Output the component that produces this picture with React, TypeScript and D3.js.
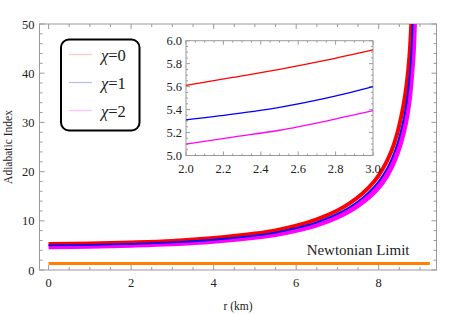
import * as d3 from "d3";

// main panel: adiabatic index vs r (km)
const rRed = [0, 1, 2, 3, 4, 5, 5.5, 6, 6.5, 7, 7.3, 7.6, 7.9, 8.1, 8.3, 8.45, 8.6, 8.68, 8.74, 8.78, 8.81];
const gRed = [5.3, 5.4, 5.61, 5.92, 6.5, 7.4, 8.05, 9.0, 10.3, 12.1, 13.6, 15.5, 18.1, 20.6, 24.0, 27.8, 33.5, 38, 43, 48.5, 55];
const rBlue = [0, 1, 2, 3, 4, 5, 5.5, 6, 6.5, 7, 7.3, 7.6, 7.9, 8.1, 8.3, 8.45, 8.6, 8.68, 8.74, 8.79, 8.82, 8.85];
const gBlue = [5.0, 5.1, 5.31, 5.6, 6.15, 7.0, 7.6, 8.5, 9.7, 11.4, 12.8, 14.6, 17.0, 19.2, 22.3, 25.6, 30.5, 34.3, 38.5, 44, 50, 57];
const rMag = [0, 1, 2, 3, 4, 5, 5.5, 6, 6.5, 7, 7.3, 7.6, 7.9, 8.1, 8.3, 8.45, 8.6, 8.68, 8.74, 8.79, 8.83, 8.86, 8.89];
const gMag = [4.8, 4.9, 5.1, 5.39, 5.9, 6.7, 7.25, 8.1, 9.2, 10.8, 12.1, 13.8, 16.0, 18.0, 20.9, 23.9, 28.2, 31.5, 35, 39.5, 44, 50, 57];

// Newtonian limit 4/3
const newtonR = [0, 9.24];
const newtonG = [4 / 3, 4 / 3];

// inset: zoom on 2 <= r <= 3
const insetR = [2.0, 2.25, 2.5, 2.75, 3.0];
const insetRed = [5.61, 5.68, 5.75, 5.83, 5.92];
const insetBlue = [5.31, 5.36, 5.42, 5.5, 5.6];
const insetMag = [5.1, 5.16, 5.22, 5.3, 5.39];

const xTicks = [0, 2, 4, 6, 8];
const yTicks = [0, 10, 20, 30, 40, 50];
const insetXTicks = [2.0, 2.2, 2.4, 2.6, 2.8, 3.0];
const insetYTicks = [5.0, 5.2, 5.4, 5.6, 5.8, 6.0];

const legendLabels = ["0", "1", "2"];
const legendColors = ["#ffc4c4", "#b8b8ff", "#ffc0ff"];

const FONT = "Liberation Serif, Times New Roman, DejaVu Serif, serif";
const FRAME = "#9a9a9a";
const TEXT = "#222";

const zip = (a: number[], b: number[]) => a.map((v, i) => [v, b[i]] as [number, number]);

export default function App() {
  const W = 463, H = 314;
  const L = 39.5, R = 436.5, T = 24, B = 270;

  const x = d3.scaleLinear().domain([-0.22, 9.4]).range([L, R]);
  const y = d3.scaleLinear().domain([0, 50]).range([B, T]);

  const line = d3.line<[number, number]>()
    .x((d) => x(d[0]))
    .y((d) => y(d[1]))
    .curve(d3.curveCatmullRom.alpha(0.5));

  // inset scales
  const ix = d3.scaleLinear().domain([2, 3]).range([186, 373]);
  const iy = d3.scaleLinear().domain([5, 6]).range([155.5, 40.7]);
  const iline = d3.line<[number, number]>()
    .x((d) => ix(d[0]))
    .y((d) => iy(d[1]))
    .curve(d3.curveMonotoneX);

  const xMinor = d3.range(0, 9.5, 0.5).filter((v) => v % 2 !== 0);
  const yMinor = d3.range(0, 50, 2).filter((v) => v % 10 !== 0);
  const ixMinor = d3.range(2, 3.0001, 0.05).filter((v) => Math.abs(v * 5 - Math.round(v * 5)) > 1e-6);
  const iyMinor = d3.range(5, 6.0001, 0.05).filter((v) => Math.abs(v * 5 - Math.round(v * 5)) > 1e-6);

  const major = 5, minor = 3;

  return (
    <svg width={W} height={H} style={{ position: "absolute", left: 0, top: 0, background: "#fff", fontFamily: FONT }}>
      <defs>
        <clipPath id="mainClip">
          <rect x={L} y={T} width={R - L} height={B - T} />
        </clipPath>
      </defs>

      {/* main frame */}
      <rect x={L} y={T} width={R - L} height={B - T} fill="none" stroke={FRAME} strokeWidth={1} />
      <g stroke={FRAME} strokeWidth={1}>
        {xTicks.map((t) => (
          <g key={"xt" + t}>
            <line x1={x(t)} x2={x(t)} y1={B} y2={B - major} />
            <line x1={x(t)} x2={x(t)} y1={T} y2={T + major} />
          </g>
        ))}
        {xMinor.map((t) => (
          <g key={"xm" + t}>
            <line x1={x(t)} x2={x(t)} y1={B} y2={B - minor} />
            <line x1={x(t)} x2={x(t)} y1={T} y2={T + minor} />
          </g>
        ))}
        {yTicks.map((t) => (
          <g key={"yt" + t}>
            <line x1={L} x2={L + major} y1={y(t)} y2={y(t)} />
            <line x1={R} x2={R - major} y1={y(t)} y2={y(t)} />
          </g>
        ))}
        {yMinor.map((t) => (
          <g key={"ym" + t}>
            <line x1={L} x2={L + minor} y1={y(t)} y2={y(t)} />
            <line x1={R} x2={R - minor} y1={y(t)} y2={y(t)} />
          </g>
        ))}
      </g>
      <g fontSize={12.5} fill={TEXT}>
        {xTicks.map((t) => (
          <text key={"xl" + t} x={x(t)} y={B + 17} textAnchor="middle">{t}</text>
        ))}
        {yTicks.map((t) => (
          <text key={"yl" + t} x={L - 5} y={y(t) + 4.5} textAnchor="end">{t}</text>
        ))}
      </g>
      <text x={238} y={310} fontSize={11.5} fill={TEXT} textAnchor="middle">r (km)</text>
      <text transform={`translate(12,${(T + B) / 2}) rotate(-90)`} fontSize={11.5} fill={TEXT} textAnchor="middle">Adiabatic Index</text>

      {/* curves */}
      <g clipPath="url(#mainClip)" fill="none">
        <path d={line(zip(rMag, gMag)) ?? ""} stroke="#ff00ff" strokeWidth={5.5} />
        <path d={line(zip(rRed, gRed)) ?? ""} stroke="#ff0000" strokeWidth={4} />
        <path d={line(zip(rBlue, gBlue)) ?? ""} stroke="#0000ff" strokeWidth={1.8} />
        <path d={line(zip(newtonR, newtonG)) ?? ""} stroke="#ff8000" strokeWidth={3} />
      </g>
      <text x={x(7.5)} y={y(4) + 4.5} fontSize={15} fill={TEXT} textAnchor="middle">Newtonian Limit</text>

      {/* legend */}
      <rect x={61} y={39.5} width={78.5} height={91} rx={8} ry={8} fill="#fff" stroke="#000" strokeWidth={2} />
      {legendLabels.map((lab, i) => {
        const ly = 54.5 + i * 28;
        return (
          <g key={"lg" + i}>
            <line x1={69} x2={92} y1={ly} y2={ly} stroke={legendColors[i]} strokeWidth={1.2} />
            <text x={101} y={ly + 6} fontSize={16.5} fill={TEXT}>
              <tspan fontStyle="italic">χ</tspan>={lab}
            </text>
          </g>
        );
      })}

      {/* inset */}
      <rect x={ix(2)} y={iy(6)} width={ix(3) - ix(2)} height={iy(5) - iy(6)} fill="#fff" stroke={FRAME} strokeWidth={1} />
      <g stroke={FRAME} strokeWidth={1}>
        {insetXTicks.map((t) => (
          <g key={"ixt" + t}>
            <line x1={ix(t)} x2={ix(t)} y1={iy(5)} y2={iy(5) - 4} />
            <line x1={ix(t)} x2={ix(t)} y1={iy(6)} y2={iy(6) + 4} />
          </g>
        ))}
        {ixMinor.map((t) => (
          <g key={"ixm" + t}>
            <line x1={ix(t)} x2={ix(t)} y1={iy(5)} y2={iy(5) - 2} />
            <line x1={ix(t)} x2={ix(t)} y1={iy(6)} y2={iy(6) + 2} />
          </g>
        ))}
        {insetYTicks.map((t) => (
          <g key={"iyt" + t}>
            <line x1={ix(2)} x2={ix(2) + 4} y1={iy(t)} y2={iy(t)} />
            <line x1={ix(3)} x2={ix(3) - 4} y1={iy(t)} y2={iy(t)} />
          </g>
        ))}
        {iyMinor.map((t) => (
          <g key={"iym" + t}>
            <line x1={ix(2)} x2={ix(2) + 2} y1={iy(t)} y2={iy(t)} />
            <line x1={ix(3)} x2={ix(3) - 2} y1={iy(t)} y2={iy(t)} />
          </g>
        ))}
      </g>
      <g fontSize={12.5} fill={TEXT}>
        {insetXTicks.map((t) => (
          <text key={"ixl" + t} x={ix(t)} y={iy(5) + 17} textAnchor="middle">{t.toFixed(1)}</text>
        ))}
        {insetYTicks.map((t) => (
          <text key={"iyl" + t} x={ix(2) - 4} y={iy(t) + 4.5} textAnchor="end">{t.toFixed(1)}</text>
        ))}
      </g>
      <g fill="none" strokeWidth={1.3}>
        <path d={iline(zip(insetR, insetRed)) ?? ""} stroke="#ff0000" />
        <path d={iline(zip(insetR, insetBlue)) ?? ""} stroke="#0000ff" />
        <path d={iline(zip(insetR, insetMag)) ?? ""} stroke="#ff00ff" />
      </g>
    </svg>
  );
}
